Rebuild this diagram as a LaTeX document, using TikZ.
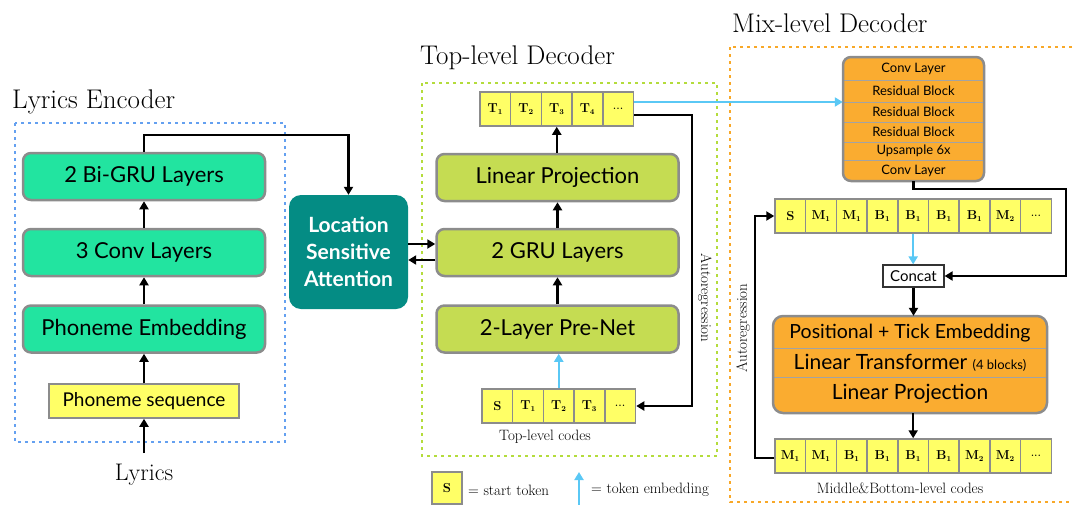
\documentclass[tikz,border=0pt]{standalone}
\usepackage{fontspec}
\setsansfont{Lato}
\usetikzlibrary{arrows.meta,calc}
\definecolor{encgreen}{RGB}{34,228,160}
\definecolor{decgreen}{RGB}{197,220,82}
\definecolor{orng}{RGB}{250,172,48}
\definecolor{tokyel}{RGB}{255,255,102}
\definecolor{cyanarr}{RGB}{90,200,245}
\definecolor{dotblue}{RGB}{100,160,240}
\definecolor{dotgreen}{RGB}{180,220,60}
\definecolor{dotorange}{RGB}{248,168,40}
\definecolor{teal}{RGB}{4,140,132}
\definecolor{bordgray}{RGB}{140,140,140}
\tikzset{
  arr/.style={line width=2.2pt,-{Triangle[length=8pt,width=9pt]}},
  carr/.style={line width=2.2pt,draw=cyanarr,-{Triangle[length=8pt,width=9pt]},color=cyanarr},
  layerbox/.style={rectangle,rounded corners=8pt,draw=bordgray,line width=2.5pt,
     font=\sffamily\fontsize{22}{24}\selectfont,minimum width=242pt,minimum height=47pt,inner sep=0pt},
  encbox/.style={layerbox,fill=encgreen},
  decbox/.style={layerbox,fill=decgreen},
  tok/.style={rectangle,draw=bordgray,line width=1.5pt,fill=tokyel,minimum width=30.7pt,
     minimum height=34pt,inner sep=0pt,font=\fontsize{13}{13}\selectfont\bfseries},
  dotframe/.style={line width=2.8pt,dash pattern=on 2.8pt off 4.2pt},
  title/.style={font=\fontsize{27}{29}\selectfont,inner sep=0pt},
  caption/.style={font=\fontsize{15}{16}\selectfont,inner sep=0pt},
  smallrow/.style={font=\sffamily\fontsize{13}{14}\selectfont,inner sep=0pt},
  bigrow/.style={font=\sffamily\fontsize{21}{23}\selectfont,inner sep=0pt},
}
\newcommand{\sub}[1]{\textsubscript{\fontsize{7.5}{7.5}\selectfont #1}}
\newcommand{\tdots}{{\fontsize{9}{9}\selectfont\textbf{.\kern0.5pt.\kern0.5pt.}}}
\begin{document}
\begin{tikzpicture}[x=1pt,y=-1pt]
\useasboundingbox (0,0) rectangle (1073,504);
\begin{scope}
\clip (0,0) rectangle (1073,504);
% frames
\draw[dotframe,draw=dotblue] (15,123) rectangle (285,442);
\draw[dotframe,draw=dotgreen] (422,83) rectangle (717,456);
\draw[dotframe,draw=dotorange] (730,47) rectangle (1090,502);

% titles
\node[title,anchor=west] (tenc) at (12,102) {Lyrics Encoder};
\node[title,anchor=west] (tdec) at (420,58) {Top-level Decoder};
\node[title,anchor=west] (tmix) at (732,23) {Mix-level Decoder};

% ---------- encoder ----------
\node[encbox] (bigru) at (144,176.5) {2 Bi-GRU Layers};
\node[encbox] (conv) at (144,252.5) {3 Conv Layers};
\node[encbox] (emb) at (144,329) {Phoneme Embedding};
\node[rectangle,draw=bordgray,line width=1.5pt,fill=tokyel,minimum width=190pt,minimum height=34pt,
      inner sep=0pt,font=\sffamily\fontsize{19}{21}\selectfont] (pseq) at (144,401) {Phoneme sequence};
\node[font=\fontsize{24}{26}\selectfont,inner sep=0pt] (lyrics) at (144,475) {Lyrics};
\coordinate (lyrtop) at (144,453);
\draw[arr] (lyrtop) -- (pseq.south);
\draw[arr] (pseq.north) -- (emb.south);
\draw[arr] (emb.north) -- (conv.south);
\draw[arr] (conv.north) -- (bigru.south);

% attention
\node[rectangle,rounded corners=12pt,fill=teal,minimum width=119pt,minimum height=114pt,inner sep=0pt,
      text=white,align=center,font=\sffamily\bfseries\fontsize{21}{27}\selectfont] (att) at (348.5,252)
      {Location\\Sensitive\\Attention};
\draw[arr] (bigru.north) -- ++(0,-17) -| (att.north);

% ---------- top-level decoder ----------
\foreach \i/\t in {1/T\sub{1},2/T\sub{2},3/T\sub{3},4/T\sub{4},5/\tdots}{
  \node[tok] (t\i) at ({480+15.35+30.7*(\i-1)},109) {\t};
}
\node[decbox] (lp) at (557.5,177.5) {Linear Projection};
\node[decbox] (gru) at (557.5,252.5) {2 GRU Layers};
\node[decbox] (pre) at (557.5,329) {2-Layer Pre-Net};
\foreach \i/\t in {1/S,2/T\sub{1},3/T\sub{2},4/T\sub{3},5/\tdots}{
  \node[tok] (b\i) at ({482+15.35+30.7*(\i-1)},406) {\t};
}
\node[caption] (tlc) at (545,437) {Top-level codes};
\draw[arr] (lp.north -| t3.south) -- (t3.south);
\draw[arr] (gru.north) -- (lp.south);
\draw[arr] (pre.north) -- (gru.south);
\draw[carr] (b3.north) -- (b3.north |- pre.south);
\draw[arr] ([yshift=8pt]att.east) -- ([yshift=8pt]att.east -| gru.west);
\draw[arr] ([yshift=-8pt]att.east -| gru.west) -- ([yshift=-8pt]att.east);
\draw[arr] ([yshift=-6pt]t5.east) -- ++(58,0) |- (b5.east);
\node[caption,rotate=-90] (ar1) at (705,298) {Autoregression};

% ---------- mix-level decoder ----------
\node[rectangle,rounded corners=8pt,fill=orng,minimum width=141pt,minimum height=124pt,inner sep=0pt] (up) at (913.5,119) {};
\foreach \y in {80,102,122,142,160}{
  \draw[bordgray!80,line width=1pt] (up.west |- 0,\y) -- (up.east |- 0,\y);
}
\node[smallrow] (r1) at (913.5,68.5) {Conv Layer};
\node[smallrow] (r2) at (913.5,91) {Residual Block};
\node[smallrow] (r3) at (913.5,112) {Residual Block};
\node[smallrow] (r4) at (913.5,132) {Residual Block};
\node[smallrow] (r5) at (913.5,151) {Upsample 6x};
\node[smallrow] (r6) at (913.5,170.5) {Conv Layer};
\node[rectangle,rounded corners=8pt,draw=bordgray,line width=2.5pt,minimum width=141pt,minimum height=124pt,inner sep=0pt] (upf) at (913.5,119) {};
\draw[carr] ([yshift=7pt]t5.east) -- ([yshift=7pt]t5.east -| up.west);

\foreach \i/\t in {1/S,2/M\sub{1},3/M\sub{1},4/B\sub{1},5/B\sub{1},6/B\sub{1},7/B\sub{1},8/M\sub{2},9/\tdots}{
  \node[tok] (m\i) at ({775+15.35+30.7*(\i-1)},216) {\t};
}
\node[rectangle,draw=black!80,line width=1.2pt,fill=white,minimum width=61pt,minimum height=22pt,inner sep=0pt,
      font=\sffamily\fontsize{15}{16}\selectfont] (concat) at (913.5,276) {Concat};
\draw[carr] (m5.south) -- (m5.south |- concat.north);
\draw[arr] (up.south) -- ++(0,8) -| ([xshift=121pt]concat.east) -- (concat.east);

\node[rectangle,rounded corners=10pt,fill=orng,minimum width=274pt,minimum height=97pt,inner sep=0pt] (big) at (910,364.5) {};
\draw[bordgray!80,line width=1pt] (big.west |- 0,348) -- (big.east |- 0,348);
\draw[bordgray!80,line width=1pt] (big.west |- 0,377) -- (big.east |- 0,377);
\node[rectangle,rounded corners=10pt,draw=bordgray,line width=2.5pt,minimum width=274pt,minimum height=97pt,inner sep=0pt] (bigf) at (910,364.5) {};
\node[bigrow,font=\sffamily\fontsize{19.5}{21}\selectfont] (p1) at (910,333) {Positional + Tick Embedding};
\node[bigrow] (p2) at (910,363) {Linear Transformer {\fontsize{13}{13}\selectfont (4 blocks)}};
\node[bigrow] (p3) at (910,394) {Linear Projection};
\draw[arr] (concat.south) -- (concat.south |- big.north);

\foreach \i/\t in {1/M\sub{1},2/M\sub{1},3/B\sub{1},4/B\sub{1},5/B\sub{1},6/B\sub{1},7/M\sub{2},8/M\sub{2},9/\tdots}{
  \node[tok] (n\i) at ({775+15.35+30.7*(\i-1)},456) {\t};
}
\draw[arr] (n5.north |- big.south) -- (n5.north);
\draw[arr] ([yshift=-2pt]n1.west) -- ++(-19,0) |- (m1.west);
\node[caption,rotate=90] (ar2) at (743,328) {Autoregression};
\node[caption] (mbc) at (900,488) {Middle\&Bottom-level codes};

% ---------- legend ----------
\node[tok,minimum width=30pt,minimum height=32pt] (ls) at (447,488) {S};
\node[caption,anchor=west] (lst) at (468,490) {= start token};
\coordinate (lca) at (579,506);
\draw[carr] (lca) -- (579,472);
\node[caption,anchor=west] (lte) at (591,490) {= token embedding};
\end{scope}
\end{tikzpicture}
\end{document}
